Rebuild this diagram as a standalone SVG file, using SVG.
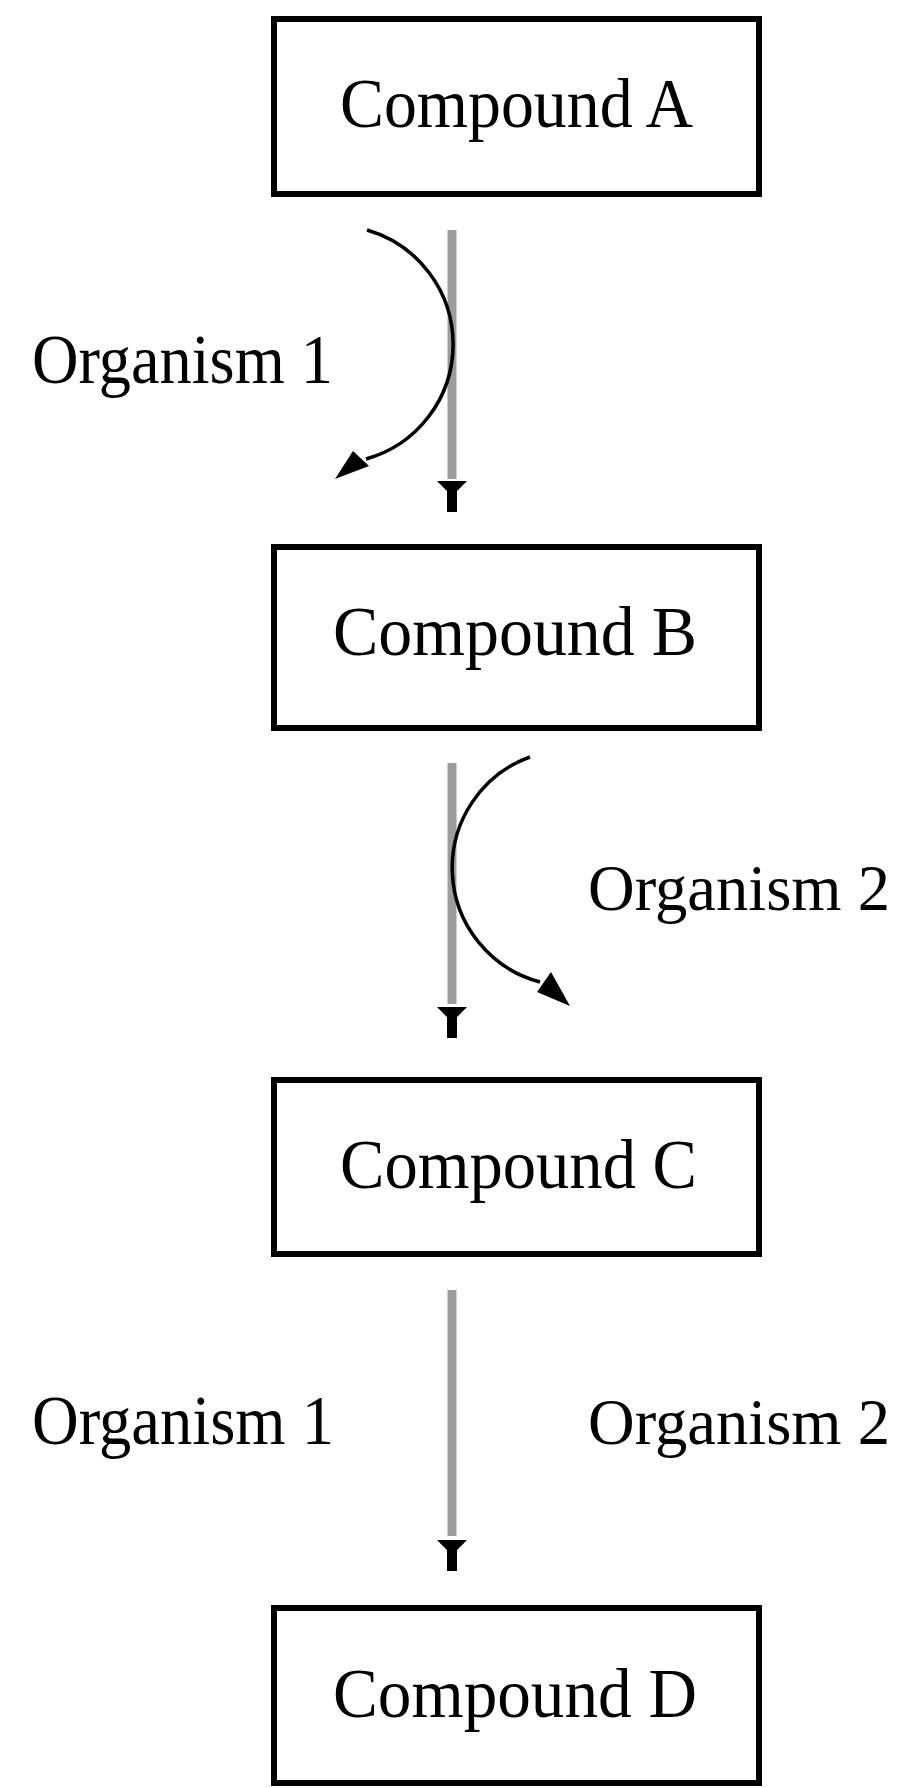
<svg xmlns="http://www.w3.org/2000/svg" xmlns:xlink="http://www.w3.org/1999/xlink" width="905" height="1788" viewBox="0 0 905 1788">
  <style>
    .box { fill: #ffffff; stroke: #000000; stroke-width: 6; }
    .label { font-family: "Liberation Serif", "Times New Roman", serif; font-size: 70px; fill: #000000; }
    .right { font-size: 66px; }
    .main { stroke: #9c9c9c; stroke-width: 9; fill: none; }
    .curve { stroke: #000000; stroke-width: 3.5; fill: none; }
    .head { fill: #000000; }
  </style>
  <defs>
    <path id="tHead" d="M-15,0 H15 L5,10 V31 H-5 V10 Z"/>
  </defs>
  <rect width="905" height="1788" fill="#ffffff"/>

  <g id="compoundA">
    <rect class="box" x="274" y="19" width="485" height="175"/>
    <text class="label" x="340" y="127" textLength="353" lengthAdjust="spacingAndGlyphs">Compound A</text>
  </g>
  <g id="compoundB">
    <rect class="box" x="274" y="547" width="485" height="181"/>
    <text class="label" x="333" y="655" textLength="364" lengthAdjust="spacingAndGlyphs">Compound B</text>
  </g>
  <g id="compoundC">
    <rect class="box" x="274" y="1080" width="485" height="174"/>
    <text class="label" x="340" y="1188" textLength="357" lengthAdjust="spacingAndGlyphs">Compound C</text>
  </g>
  <g id="compoundD">
    <rect class="box" x="274" y="1608" width="485" height="175"/>
    <text class="label" x="333" y="1717" textLength="364" lengthAdjust="spacingAndGlyphs">Compound D</text>
  </g>

  <g id="labels">
    <text class="label" x="32" y="383" textLength="301" lengthAdjust="spacingAndGlyphs">Organism 1</text>
    <text class="label right" x="588" y="910" textLength="302" lengthAdjust="spacingAndGlyphs">Organism 2</text>
    <text class="label" x="32" y="1444" textLength="302" lengthAdjust="spacingAndGlyphs">Organism 1</text>
    <text class="label right" x="588" y="1444" textLength="302" lengthAdjust="spacingAndGlyphs">Organism 2</text>
  </g>

  <g id="connectors">
    <line class="main" x1="452" y1="230" x2="452" y2="479"/>
    <use xlink:href="#tHead" href="#tHead" class="head" transform="translate(452,481)"/>
    <path class="curve" d="M367,230 A119,119 0 0 1 366,459"/>
    <polygon class="head" points="335,479 353,451 369,466"/>

    <line class="main" x1="452" y1="763" x2="452" y2="1004"/>
    <use xlink:href="#tHead" href="#tHead" class="head" transform="translate(452,1007)"/>
    <path class="curve" d="M530,757 A118,118 0 0 0 540,982"/>
    <polygon class="head" points="570,1006 537,992 551,972"/>

    <line class="main" x1="452" y1="1290" x2="452" y2="1536"/>
    <use xlink:href="#tHead" href="#tHead" class="head" transform="translate(452,1540)"/>
  </g>
</svg>
